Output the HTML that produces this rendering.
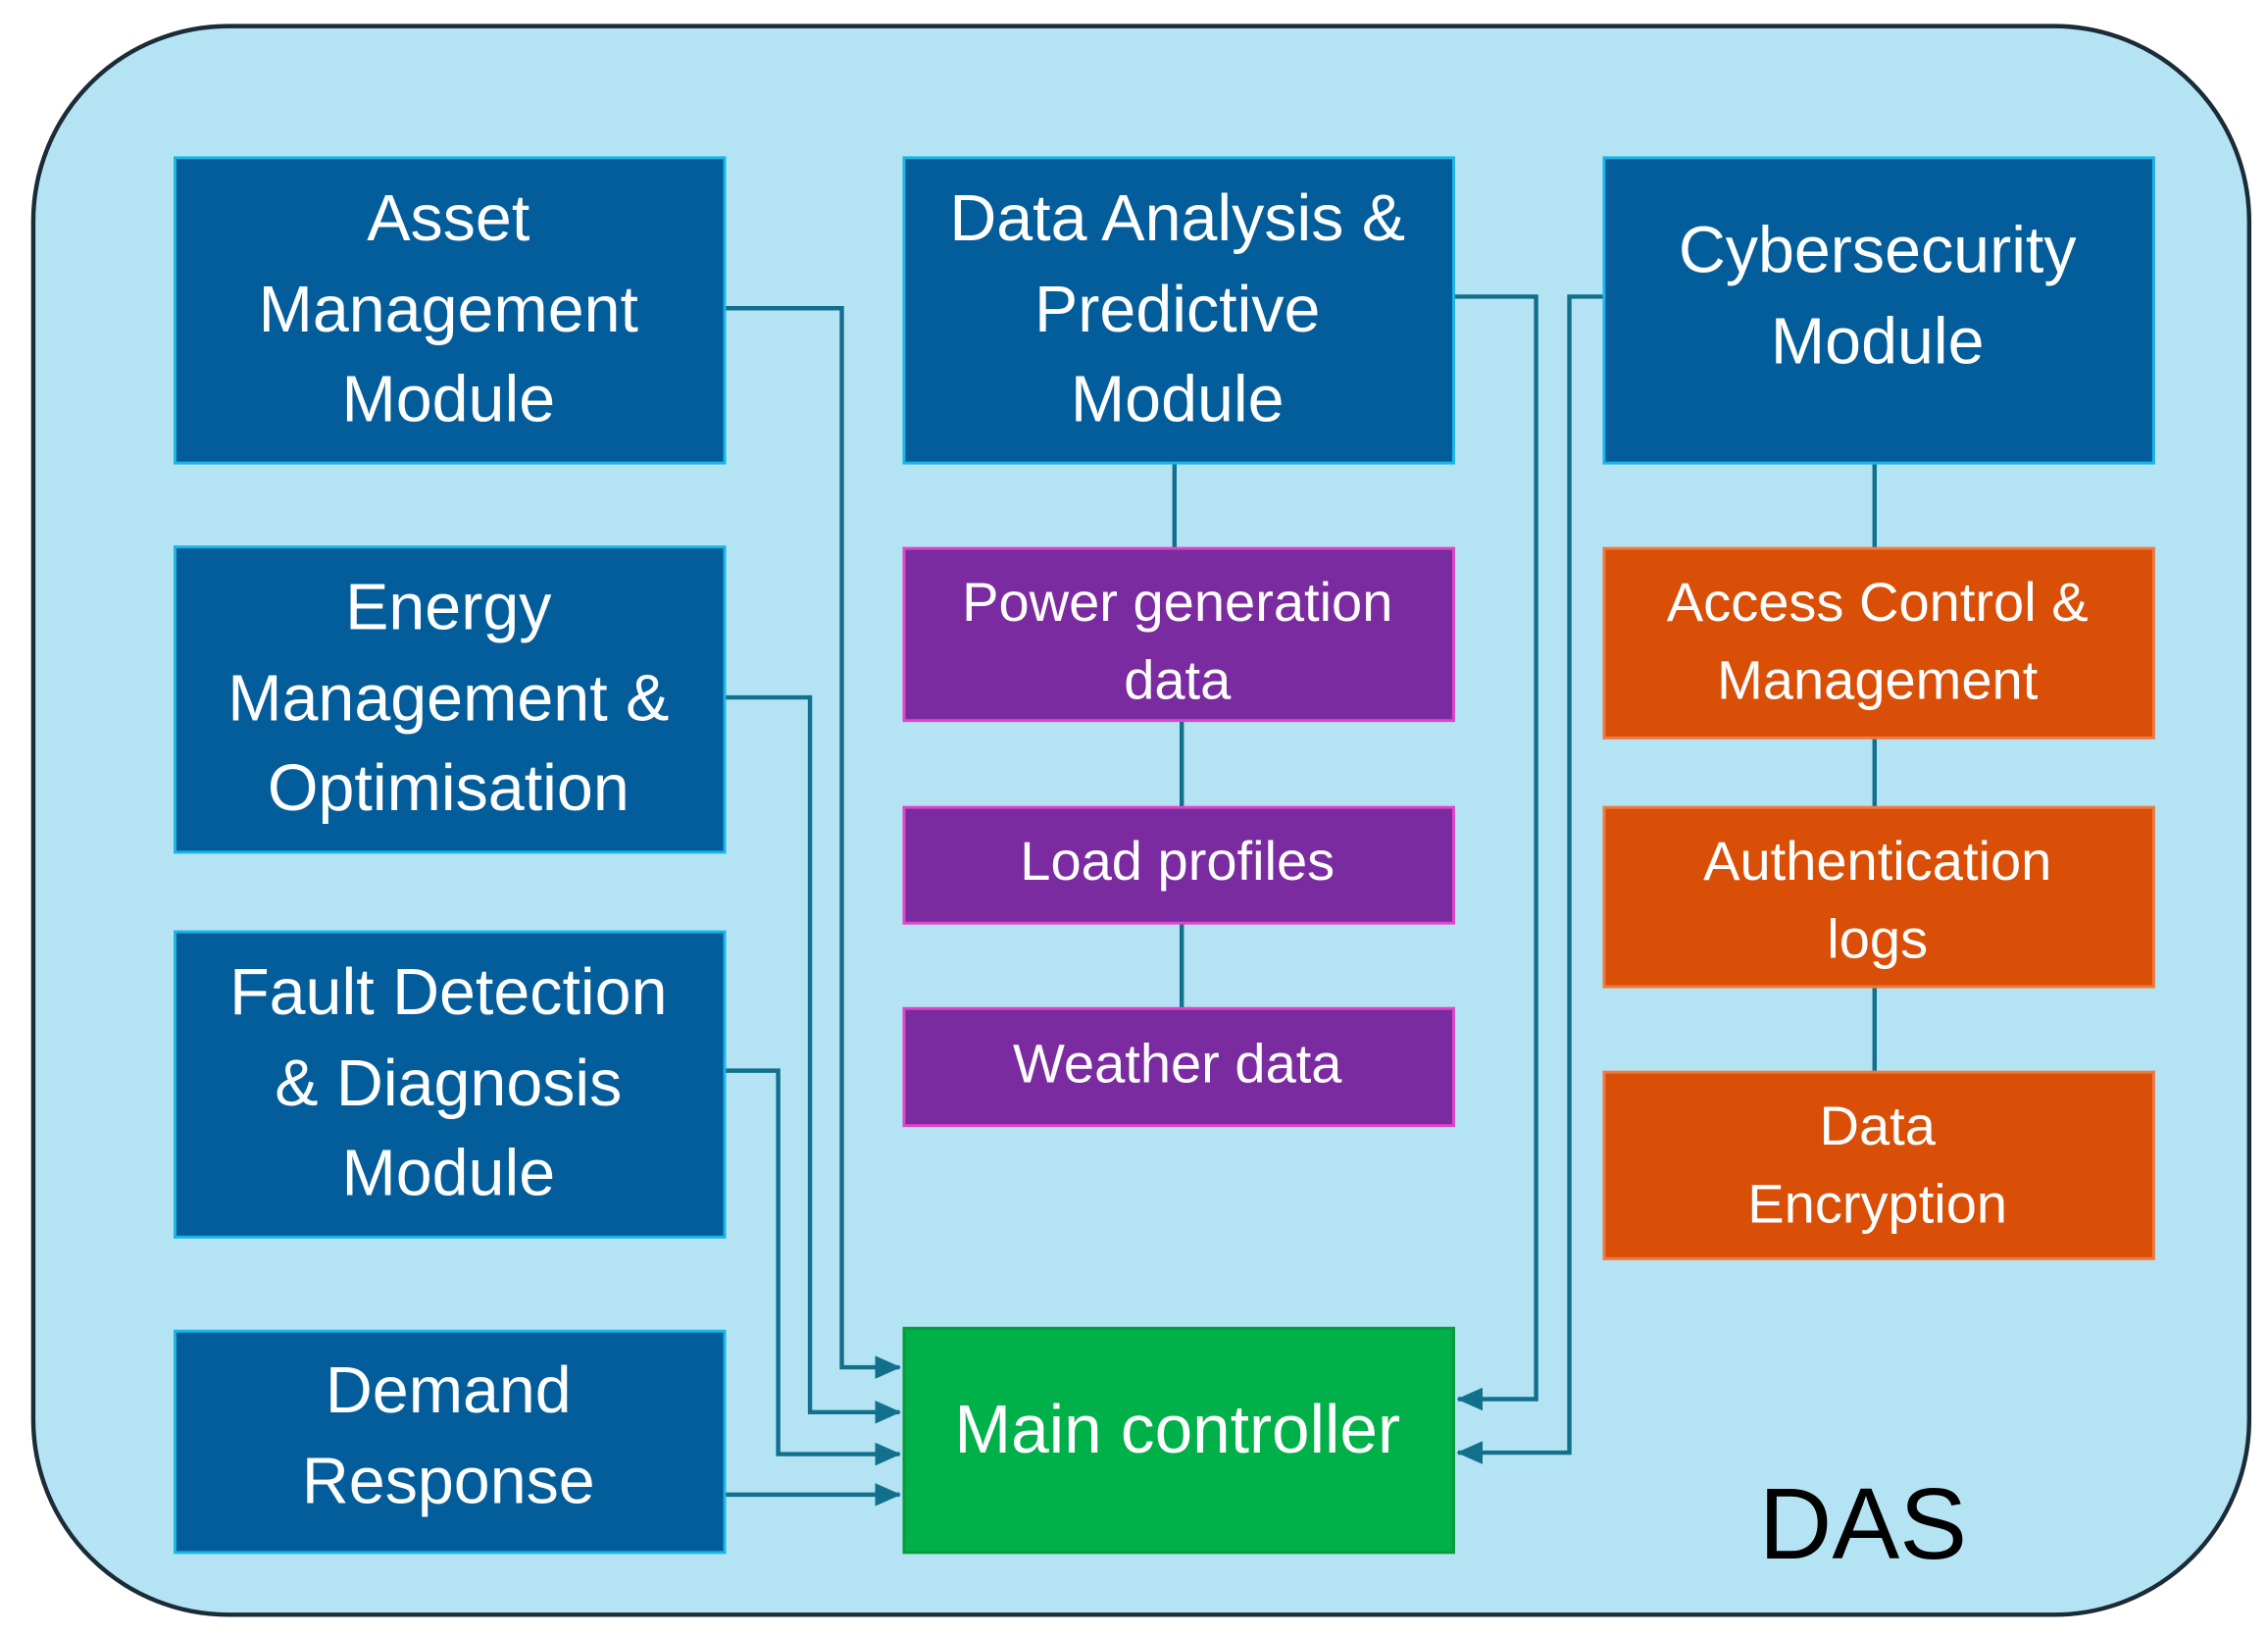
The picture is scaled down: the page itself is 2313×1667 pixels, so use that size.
<!DOCTYPE html>
<html><head><meta charset="utf-8"><style>
html,body{margin:0;padding:0;background:#fff;}
svg{display:block;}
text{font-family:"Liberation Sans","DejaVu Sans",sans-serif;fill:#fff;text-anchor:middle;}
</style></head><body>
<svg width="2313" height="1667" viewBox="0 0 1568 1130" xmlns="http://www.w3.org/2000/svg">
<defs>
<marker id="a" markerWidth="18" markerHeight="16" refX="17" refY="8" orient="auto" markerUnits="userSpaceOnUse" viewBox="0 0 18 16">
<path d="M0,0 L18,8 L0,16 Z" fill="#12708c"/></marker>
</defs>
<rect x="23" y="18" width="1532" height="1098" rx="135" fill="#b4e4f4" stroke="#1b2b38" stroke-width="3"/>
<g fill="none" stroke="#12708c" stroke-width="3">
<polyline points="501,213 582,213 582,945 622,945" marker-end="url(#a)"/>
<polyline points="501,482 560,482 560,976 622,976" marker-end="url(#a)"/>
<polyline points="501,740 538,740 538,1005 622,1005" marker-end="url(#a)"/>
<polyline points="501,1033 622,1033" marker-end="url(#a)"/>
<polyline points="1005,205 1062,205 1062,967 1008,967" marker-end="url(#a)"/>
<polyline points="1109,205 1085,205 1085,1004 1008,1004" marker-end="url(#a)"/>
<line x1="812" y1="320" x2="812" y2="379"/>
<line x1="817" y1="498" x2="817" y2="558"/>
<line x1="817" y1="638" x2="817" y2="697"/>
<line x1="1296" y1="320" x2="1296" y2="379"/>
<line x1="1296" y1="510" x2="1296" y2="558"/>
<line x1="1296" y1="682" x2="1296" y2="741"/>
</g>
<g fill="#035d9b" stroke="#1ab5e6" stroke-width="2">
<rect x="121" y="109" width="380" height="211"/>
<rect x="121" y="378" width="380" height="211"/>
<rect x="121" y="644" width="380" height="211"/>
<rect x="121" y="920" width="380" height="153"/>
<rect x="625" y="109" width="380" height="211"/>
<rect x="1109" y="109" width="380" height="211"/>
</g>
<g fill="#7b2ba0" stroke="#e044c8" stroke-width="2">
<rect x="625" y="379" width="380" height="119"/>
<rect x="625" y="558" width="380" height="80"/>
<rect x="625" y="697" width="380" height="81"/>
</g>
<g fill="#d94f08" stroke="#f07a40" stroke-width="2">
<rect x="1109" y="379" width="380" height="131"/>
<rect x="1109" y="558" width="380" height="124"/>
<rect x="1109" y="741" width="380" height="129"/>
</g>
<rect x="625" y="918" width="380" height="155" fill="#00b14a" stroke="#0a9a3e" stroke-width="2"/>
<g font-size="45">
<text x="310" y="166">Asset</text><text x="310" y="229">Management</text><text x="310" y="291">Module</text>
<text x="310" y="435">Energy</text><text x="310" y="498">Management &amp;</text><text x="310" y="560">Optimisation</text>
<text x="310" y="701">Fault Detection</text><text x="310" y="764">&amp; Diagnosis</text><text x="310" y="826">Module</text>
<text x="310" y="976">Demand</text><text x="310" y="1039">Response</text>
<text x="814" y="166">Data Analysis &amp;</text><text x="814" y="229">Predictive</text><text x="814" y="291">Module</text>
<text x="1298" y="188">Cybersecurity</text><text x="1298" y="251">Module</text>
<text x="814" y="1004" font-size="47">Main controller</text>
</g>
<g font-size="38">
<text x="814" y="429">Power generation</text><text x="814" y="483">data</text>
<text x="814" y="608">Load profiles</text>
<text x="814" y="748">Weather data</text>
<text x="1298" y="429">Access Control &amp;</text><text x="1298" y="483">Management</text>
<text x="1298" y="608">Authentication</text><text x="1298" y="662">logs</text>
<text x="1298" y="791">Data</text><text x="1298" y="845">Encryption</text>
</g>
<text x="1288" y="1077" font-size="70" style="fill:#000">DAS</text>
</svg>
</body></html>
